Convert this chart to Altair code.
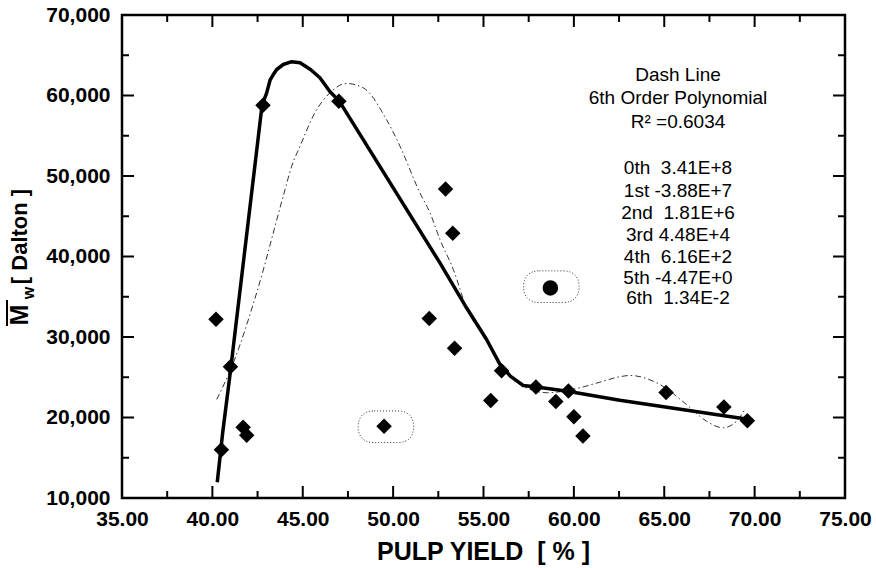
import altair as alt
import pandas as pd

# ---------------- data ----------------
diamond_x = [40.2, 40.5, 41.0, 41.7, 41.9, 42.8, 47.0, 49.5, 52.0, 52.9, 53.3,
             53.4, 55.4, 56.0, 57.9, 59.0, 59.7, 60.0, 60.5, 65.1, 68.3, 69.6]
diamond_y = [32200, 16000, 26300, 18800, 17800, 58800, 59300, 18900, 32300, 48400, 42900,
             28600, 22100, 25800, 23800, 22000, 23300, 20100, 17700, 23100, 21300, 19600]

circle_x = [58.7]
circle_y = [36100]

# the two points enclosed by dotted outlines
marked_x = [49.6, 58.75]
marked_y = [18850, 36250]

# thick solid trend line
solid_x = [40.27, 40.57, 41.03, 41.16, 42.75, 43.0, 43.19, 43.37, 43.56, 43.92, 44.39,
           44.85, 45.43, 45.95, 46.5, 47.02, 52.59, 54.06, 55.17, 55.91, 56.5, 57.2,
           57.84, 59.65, 62.54, 69.9]
solid_y = [11950, 18100, 26300, 28800, 58800, 60300, 61900, 62600, 63230, 63850, 64200,
           64060, 63230, 62200, 60500, 59300, 39200, 33630, 29690, 26590, 25100, 23980,
           23810, 23270, 22150, 19700]

# thin dash-dot 6th order polynomial curve
dash_x = [40.24, 41.16, 42.45, 43.92, 44.39, 44.85, 45.67, 46.5, 47.42, 48.34, 49.63,
          50.38, 51.48, 52.04, 52.59, 53.33, 54.06, 55.17, 55.91, 57.2, 58.55, 59.5,
          60.33, 61.44, 62.54, 63.1, 64.76, 66.23, 67.34, 68.26, 69.0, 69.46]
dash_y = [22240, 26800, 35490, 47490, 51220, 53700, 57850, 60330, 61490, 60960, 57020,
          53700, 47910, 45430, 42110, 38390, 33630, 29600, 26500, 23900, 23070, 23300,
          23690, 24390, 25060, 25220, 24100, 21620, 19540, 18720, 19540, 20990]

x_tick_labels = [35, 40, 45, 50, 55, 60, 65, 70, 75]
x_minor_ticks = [37.5, 42.5, 47.5, 52.5, 57.5, 62.5, 67.5, 72.5]
y_tick_labels = [10000, 20000, 30000, 40000, 50000, 60000, 70000]
y_minor_ticks = [15000, 25000, 35000, 45000, 55000, 65000]

fit_header = ["Dash Line", "6th Order Polynomial", "R\u00b2\u00a0=0.6034"]
coef_order = ["0th", "1st", "2nd", "3rd", "4th", "5th", "6th"]
coef_value = ["3.41E+8", "-3.88E+7", "1.81E+6", "4.48E+4", "6.16E+2", "-4.47E+0", "1.34E-2"]
coef_gap = ["\u00a0\u00a0", "\u00a0", "\u00a0\u00a0", "\u00a0", "\u00a0\u00a0", "\u00a0", "\u00a0\u00a0"]

x_title = "PULP YIELD\u00a0\u00a0[\u00a0%\u00a0]"
y_title_main = "M"
y_title_sub = "w"
y_title_unit = "[\u00a0Dalton\u00a0]"

# ---------------- layout ----------------
W, H = 723, 483
OX, OY = 122, 15  # plot origin on the page
FONT = "Liberation Sans"

xscale = alt.Scale(domain=[35, 75], nice=False, zero=False)
yscale = alt.Scale(domain=[10000, 70000], nice=False, zero=False)
xaxis = alt.Axis(values=x_tick_labels, format=".2f", title=None, ticks=False, domain=False,
                 grid=False, labelFontSize=21, labelFontWeight="bold", labelFont=FONT,
                 labelPadding=10, labelColor="black", labelFlush=False, labelOverlap=False)
yaxis = alt.Axis(values=y_tick_labels, format=",.0f", title=None, ticks=False, domain=False,
                 grid=False, labelFontSize=21, labelFontWeight="bold", labelFont=FONT,
                 labelPadding=12, labelColor="black", labelFlush=False, labelOverlap=False)


def X(f="x"):
    return alt.X(f"{f}:Q", scale=xscale, axis=xaxis)


def Y(f="y"):
    return alt.Y(f"{f}:Q", scale=yscale, axis=yaxis)


layers = []

# tick marks (inward) on all four sides
xt_major = pd.DataFrame({"x": x_tick_labels})
xt_minor = pd.DataFrame({"x": x_minor_ticks})
yt_major = pd.DataFrame({"y": y_tick_labels})
yt_minor = pd.DataFrame({"y": y_minor_ticks})
for df, ln in [(xt_major, 12), (xt_minor, 7)]:
    layers.append(alt.Chart(df).mark_rule(color="black", strokeWidth=2).encode(
        x=X(), y=alt.value(H), y2=alt.value(H - ln)))
    layers.append(alt.Chart(df).mark_rule(color="black", strokeWidth=2).encode(
        x=X(), y=alt.value(0), y2=alt.value(ln)))
for df, ln in [(yt_major, 12), (yt_minor, 7)]:
    layers.append(alt.Chart(df).mark_rule(color="black", strokeWidth=2).encode(
        y=Y(), x=alt.value(0), x2=alt.value(ln)))
    layers.append(alt.Chart(df).mark_rule(color="black", strokeWidth=2).encode(
        y=Y(), x=alt.value(W), x2=alt.value(W - ln)))

# dashed polynomial
dash_df = pd.DataFrame({"x": dash_x, "y": dash_y})
layers.append(alt.Chart(dash_df).mark_line(color="#333333", strokeWidth=1,
                                           strokeDash=[6, 3, 1.5, 3],
                                           interpolate="monotone").encode(x=X(), y=Y()))

# solid trend
solid_df = pd.DataFrame({"x": solid_x, "y": solid_y})
layers.append(alt.Chart(solid_df).mark_line(color="black", strokeWidth=3.5,
                                            strokeJoin="round").encode(x=X(), y=Y()))

# dotted rounded outlines (stadium shape)
outline_path = ("M-0.43,-0.57 L0.43,-0.57 C0.85,-0.57 1,-0.3 1,0 "
                "C1,0.3 0.85,0.57 0.43,0.57 L-0.43,0.57 C-0.85,0.57 -1,0.3 -1,0 "
                "C-1,-0.3 -0.85,-0.57 -0.43,-0.57 Z")
marked_df = pd.DataFrame({"x": marked_x, "y": marked_y})
layers.append(alt.Chart(marked_df).mark_point(shape=outline_path, size=3080, filled=False,
                                              color="#333333", strokeWidth=1,
                                              strokeDash=[1, 2], opacity=1).encode(x=X(), y=Y()))

# diamonds
dia_df = pd.DataFrame({"x": diamond_x, "y": diamond_y})
layers.append(alt.Chart(dia_df).mark_point(shape="diamond", size=240, filled=True,
                                           color="black", opacity=1).encode(x=X(), y=Y()))

# filled circle
cir_df = pd.DataFrame({"x": circle_x, "y": circle_y})
layers.append(alt.Chart(cir_df).mark_point(shape="circle", size=240, filled=True,
                                           color="black", opacity=1).encode(x=X(), y=Y()))


def text_layer(t, px, py, size, weight="normal", angle=0, align="center",
               baseline="middle"):
    return alt.Chart(pd.DataFrame({"t": [t]})).mark_text(
        font=FONT, fontSize=size, fontWeight=weight, angle=angle, align=align,
        baseline=baseline, color="black").encode(
        text="t:N", x=alt.value(px), y=alt.value(py))


# fit annotation
tx = 678 - OX
header_y = [75, 97.7, 121.7]
for t, yy in zip(fit_header, header_y):
    layers.append(text_layer(t, tx, yy - OY, 19))
coef_y = [168.3, 190.5, 212.5, 234.5, 256.5, 278.3, 298]
for o, g, v, yy in zip(coef_order, coef_gap, coef_value, coef_y):
    layers.append(text_layer(o + g + v, tx, yy - OY, 19))

# axis titles
layers.append(text_layer(x_title, (OX + OX + W) / 2 - OX, 560 - OY, 25, "bold",
                         baseline="alphabetic"))
layers.append(text_layer(y_title_main, 20 - OX, 315 - OY, 25, "bold", angle=270))
layers.append(text_layer(y_title_sub, 29 - OX, 293 - OY, 16, "bold", angle=270))
layers.append(text_layer(y_title_unit, 20 - OX, 236.5 - OY, 22, "bold", angle=270))
layers.append(alt.Chart(pd.DataFrame({"t": [0]})).mark_rule(color="black", strokeWidth=2).encode(
    x=alt.value(7 - OX), y=alt.value(300 - OY), y2=alt.value(326 - OY)))

chart = alt.layer(*layers).properties(
    width=W, height=H,
    autosize=alt.AutoSizeParams(type="none"),
    padding={"left": OX, "top": OY, "right": 876 - OX - W, "bottom": 568 - OY - H},
    background="white",
).configure_view(stroke="black", strokeWidth=2.5).configure_axis(grid=False)

chart.save("out.html", embed_options={"renderer": "svg", "actions": False})
